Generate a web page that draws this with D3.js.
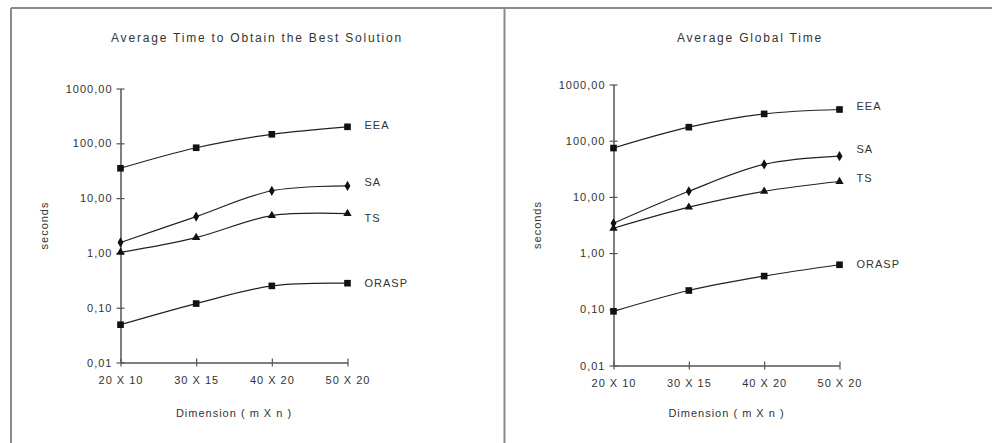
<!DOCTYPE html>
<html>
<head>
<meta charset="utf-8">
<script src="https://cdn.jsdelivr.net/npm/d3@7"></script>
<style>
  body { margin: 0; background: #fff; }
  text { font-family: "Liberation Sans", Arial, sans-serif; fill: #333; }
</style>
</head>
<body>
<script>
// categories and tick labels
var dimensions = ["20 X 10", "30 X 15", "40 X 20", "50 X 20"];
var yTicks = [0.01, 0.1, 1, 10, 100, 1000];
var seriesNames = ["EEA", "SA", "TS", "ORASP"];
var seriesMarkers = ["square", "diamond", "triangle", "square"];

// left chart: average time to obtain the best solution (seconds)
var bestEEA   = [35, 83, 146, 200];
var bestSA    = [1.55, 4.6, 13.6, 16.7];
var bestTS    = [1.02, 1.9, 4.8, 5.2];
var bestORASP = [0.049, 0.119, 0.25, 0.28];

// right chart: average global time (seconds)
var globalEEA   = [74, 174, 300, 359];
var globalSA    = [3.4, 12.6, 37.8, 53];
var globalTS    = [2.77, 6.56, 12.6, 18.8];
var globalORASP = [0.092, 0.216, 0.39, 0.62];

var width = 992, height = 443;

var svg = d3.select("body").append("svg")
    .attr("width", width)
    .attr("height", height);

// frame
var frame = svg.append("g")
    .attr("stroke", "#8a8a8a")
    .attr("stroke-width", 2)
    .attr("fill", "none");
frame.append("line").attr("x1", 11).attr("y1", 8).attr("x2", width).attr("y2", 8);
frame.append("line").attr("x1", 11).attr("y1", 8).attr("x2", 11).attr("y2", height);
frame.append("line").attr("x1", 504.5).attr("y1", 8).attr("x2", 504.5).attr("y2", height);

function fmt(v)
{
    return d3.format(".2f")(v).replace(".", ",");
}

function drawChart(opt)
{
    var g = svg.append("g");

    var x = d3.scalePoint()
        .domain(dimensions)
        .range([opt.left, opt.right]);

    var y = d3.scaleLog()
        .domain([0.01, 1000])
        .range([opt.bottom, opt.top]);

    // title
    g.append("text")
        .attr("x", opt.titleX)
        .attr("y", 42)
        .attr("text-anchor", "middle")
        .style("font-size", "12px")
        .style("letter-spacing", "1.8px")
        .text(opt.title);

    // y axis
    var yAxis = d3.axisLeft(y)
        .tickValues(yTicks)
        .tickFormat(fmt)
        .tickSizeInner(4)
        .tickSizeOuter(0)
        .tickPadding(6);

    var ya = g.append("g")
        .attr("transform", "translate(" + opt.left + ",0)")
        .call(yAxis);
    ya.select(".domain").attr("stroke", "#555").attr("stroke-width", 1.5);
    ya.selectAll(".tick line").attr("stroke", "#555").attr("x2", 4).attr("x1", -4).attr("stroke-width", 1.2);
    ya.selectAll(".tick text")
        .attr("x", -8)
        .style("font-size", "11px")
        .style("letter-spacing", "1px")
        .style("font-family", "'Liberation Sans', Arial, sans-serif")
        .attr("fill", "#333");

    // x axis
    var xAxis = d3.axisBottom(x)
        .tickSizeInner(4)
        .tickSizeOuter(0)
        .tickPadding(10);

    var xa = g.append("g")
        .attr("transform", "translate(0," + opt.bottom + ")")
        .call(xAxis);
    xa.select(".domain").attr("stroke", "#555").attr("stroke-width", 1.5);
    xa.selectAll(".tick line").attr("stroke", "#555").attr("y1", -4).attr("y2", 4).attr("stroke-width", 1.2);
    xa.selectAll(".tick text")
        .style("font-size", "11px")
        .style("letter-spacing", "1px")
        .style("font-family", "'Liberation Sans', Arial, sans-serif")
        .attr("fill", "#333");

    // axis titles
    g.append("text")
        .attr("x", (opt.left + opt.right) / 2)
        .attr("y", 417)
        .attr("text-anchor", "middle")
        .style("font-size", "11px")
        .style("letter-spacing", "1px")
        .text("Dimension ( m X n )");

    g.append("text")
        .attr("transform", "translate(" + (opt.left - 73) + "," + ((opt.top + opt.bottom) / 2) + ") rotate(-90)")
        .attr("text-anchor", "middle")
        .style("font-size", "11px")
        .style("letter-spacing", "1px")
        .text("seconds");

    var line = d3.line()
        .x(function(d, i) { return x(dimensions[i]); })
        .y(function(d) { return y(d); })
        .curve(d3.curveCatmullRom.alpha(0.5));

    opt.series.forEach(function(values, k)
    {
        g.append("path")
            .datum(values)
            .attr("d", line)
            .attr("fill", "none")
            .attr("stroke", "#222")
            .attr("stroke-width", 1.2);

        var symType = seriesMarkers[k] == "square" ? d3.symbolSquare :
                      seriesMarkers[k] == "diamond" ? d3.symbolDiamond : d3.symbolTriangle;
        var symSize = seriesMarkers[k] == "square" ? 44 : 30;

        g.selectAll(".m" + k)
            .data(values)
            .enter()
          .append("path")
            .attr("class", "m" + k)
            .attr("transform", function(d, i) { return "translate(" + x(dimensions[i]) + "," + y(d) + ")"; })
            .attr("d", d3.symbol().type(symType).size(symSize))
            .attr("fill", "#111");

        // series label at the end of each line
        g.append("text")
            .attr("x", opt.right + 17)
            .attr("y", y(values[values.length - 1]) + opt.labelDy[k])
            .attr("dy", "0.35em")
            .style("font-size", "11px")
            .style("letter-spacing", "1px")
            .text(seriesNames[k]);
    });
}

drawChart({
    title: "Average Time to Obtain the Best Solution",
    titleX: 257,
    left: 120.5, right: 347.5, top: 88.5, bottom: 362.5,
    series: [bestEEA, bestSA, bestTS, bestORASP],
    labelDy: [-2, -4, 4, 0]
});

drawChart({
    title: "Average  Global  Time",
    titleX: 750,
    left: 613.5, right: 839.5, top: 84.5, bottom: 365.5,
    series: [globalEEA, globalSA, globalTS, globalORASP],
    labelDy: [-3, -7, -3, -1]
});
</script>
</body>
</html>
